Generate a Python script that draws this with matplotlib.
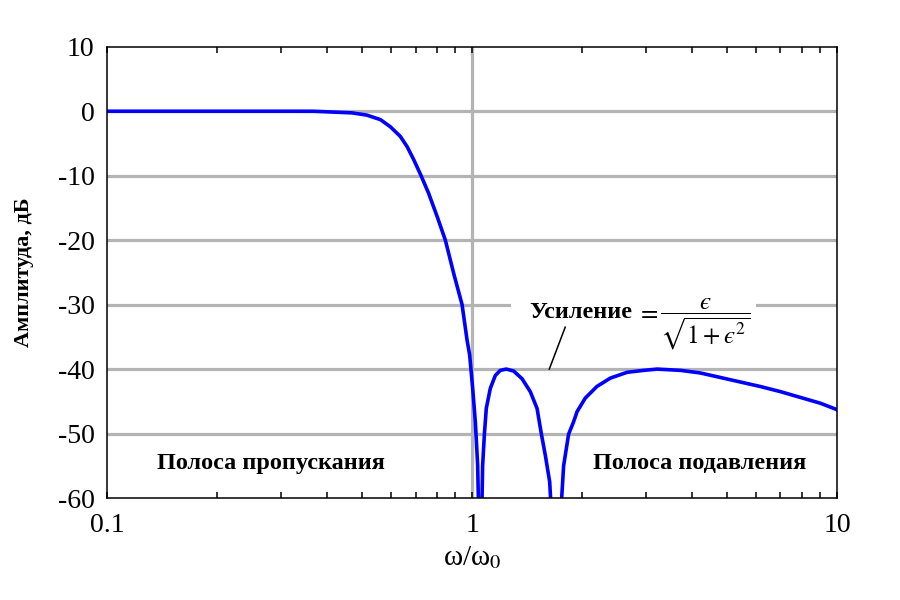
import matplotlib
matplotlib.use("Agg")
import matplotlib.pyplot as plt
from matplotlib.patches import Rectangle
from matplotlib.ticker import FixedLocator, NullFormatter, LogLocator

plt.rcParams['font.family'] = ['Liberation Serif', 'DejaVu Serif']
plt.rcParams['mathtext.fontset'] = 'stix'

# Frequency (omega/omega0) and gain (dB)
freq = [0.10, 0.20, 0.30, 0.368, 0.469, 0.515, 0.561, 0.597, 0.636, 0.664,
        0.692, 0.725, 0.760, 0.802, 0.845, 0.891, 0.939, 0.969, 0.985, 1.004,
        1.021, 1.036, 1.054, 1.069, 1.081, 1.094, 1.122, 1.158, 1.195, 1.241,
        1.300, 1.371, 1.444, 1.507, 1.549, 1.588, 1.632, 1.697, 1.782, 1.839,
        1.897, 1.940, 2.043, 2.198, 2.393, 2.660, 2.953, 3.214, 3.73, 4.22,
        4.79, 5.43, 6.16, 7.00, 7.94, 9.01, 10.0]
gain = [0.0, 0.0, 0.0, 0.0, -0.25, -0.6, -1.3, -2.4, -3.9, -5.5,
        -7.5, -10.0, -12.7, -16.3, -20.0, -25.2, -30.0, -35.5, -37.8, -43.0,
        -48.2, -54.9, -75.0, -55.0, -50.1, -46.1, -43.0, -41.0, -40.2, -40.0,
        -40.3, -41.5, -43.5, -46.1, -50.1, -53.4, -57.5, -75.0, -55.0, -50.1,
        -48.2, -46.6, -44.5, -42.7, -41.4, -40.5, -40.2, -40.0, -40.2, -40.6,
        -41.3, -42.0, -42.7, -43.5, -44.4, -45.3, -46.3]

y_ticks = [10, 0, -10, -20, -30, -40, -50, -60]
y_grid = [0, -10, -20, -30, -40, -50]
x_ticks = [0.1, 1, 10]
x_tick_labels = ['0.1', '1', '10']

fig = plt.figure(figsize=(9, 6), dpi=100)
ax = fig.add_axes([0.119, 0.170, 0.811, 0.752])

grid_color = '#b4b4b4'
for g in y_grid:
    ax.axhline(g, color=grid_color, lw=2.3, zorder=1)
ax.axvline(1.0, color=grid_color, lw=2.3, zorder=1)

ax.plot(freq, gain, color='#0000ff', lw=2.6, zorder=3, solid_joinstyle='round')

ax.set_xscale('log')
ax.set_xlim(0.1, 10)
ax.set_ylim(-60, 10)

ax.xaxis.set_major_locator(FixedLocator(x_ticks))
ax.set_xticklabels(x_tick_labels)
ax.xaxis.set_minor_locator(LogLocator(base=10, subs=range(2, 10)))
ax.xaxis.set_minor_formatter(NullFormatter())
ax.set_yticks(y_ticks)
ax.set_yticklabels([str(v) for v in y_ticks])

ax.tick_params(axis='x', which='both', direction='in', top=True, bottom=True,
               labelsize=20, pad=11, width=1.1)
ax.tick_params(axis='x', which='minor', length=4.5)
ax.tick_params(axis='x', which='major', length=4.5)
ax.tick_params(axis='y', which='both', length=0, labelsize=20, pad=9)

for s in ax.spines.values():
    s.set_linewidth(1.1)
    s.set_zorder(4)

ax.set_xlabel(r'ω/ω$_0$', fontsize=21, labelpad=4)
ax.set_ylabel('Амплитуда, дБ', fontsize=16, fontweight='bold', labelpad=17)

ax.text(0.282, -54.6, 'Полоса пропускания', fontsize=17.5, fontweight='bold',
        ha='center', va='center', zorder=5)
ax.text(4.21, -54.6, 'Полоса подавления', fontsize=17.5, fontweight='bold',
        ha='center', va='center', zorder=5)

# annotation: white gap in the -30 gridline behind the label
ax.add_patch(Rectangle((1.281, -31.0), 6.01 - 1.281, 2.0, facecolor='white',
                       edgecolor='none', zorder=2))
ax.text(1.980, -32.05, 'Усиление', fontsize=17.5, fontweight='bold',
        ha='center', va='baseline', zorder=5)
ax.text(2.837, -31.27, '$=$', fontsize=18, ha='left', va='center', zorder=5)
ax.text(3.28, -33.05, '$\\dfrac{\u03f5}{\\sqrt{1+\u03f5^2}}$', fontsize=18,
        ha='left', va='center', zorder=5)
ax.plot([1.80, 1.628], [-33.5, -40.0], color='black', lw=1.1, zorder=5)

fig.savefig('out.png', dpi=100)
